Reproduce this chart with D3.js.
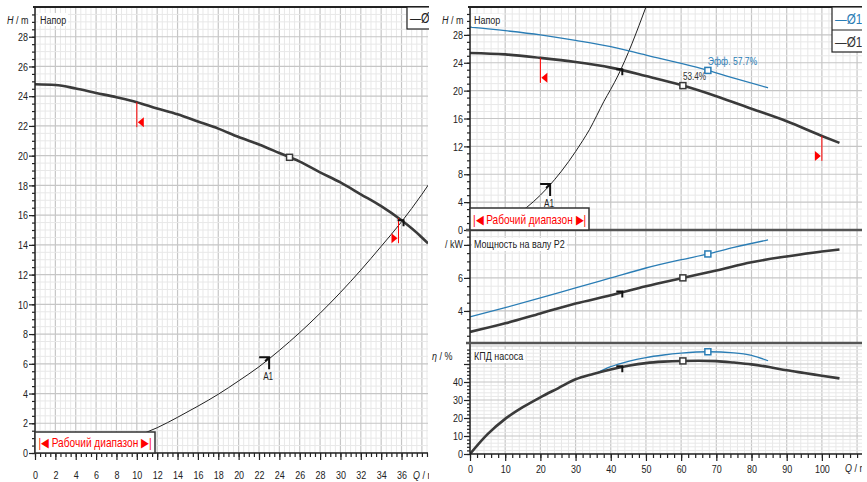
<!DOCTYPE html>
<html>
<head>
<meta charset="utf-8">
<script src="https://cdn.jsdelivr.net/npm/d3@7"></script>
<style>
body { margin: 0; background: #fff; }
svg text { font-family: "Liberation Sans", Arial, sans-serif; }
</style>
</head>
<body>
<div id="vis"></div>
<script>
// ---- data ----
// left chart: pump curve and system curve A1
const leftPumpQ = [0, 2, 4, 6, 8, 10, 12, 14, 16, 18, 20, 22, 24, 26, 28, 30, 32, 34, 36, 38, 38.6];
const leftPumpH = [24.8, 24.75, 24.52, 24.22, 23.93, 23.6, 23.17, 22.78, 22.3, 21.82, 21.25, 20.75, 20.18, 19.6, 18.88, 18.2, 17.4, 16.6, 15.65, 14.5, 14.1];
const leftSysQ = [10, 12, 14, 16, 18, 20, 22, 24, 26, 28, 30, 32, 34, 36, 38, 39];
const leftSysH = [1.15, 1.7, 2.4, 3.15, 3.95, 4.85, 5.8, 6.9, 8.1, 9.4, 10.8, 12.3, 13.9, 15.55, 17.4, 18.4];
// right chart: system curve A1 and two impellers
const systemQ = [10, 12, 14, 16, 18, 20, 22, 24, 26, 28, 30, 32, 34, 36, 38, 40, 42, 44, 46, 48, 50];
const systemH = [1.3, 1.8, 2.45, 3.2, 4.05, 5.0, 6.05, 7.2, 8.45, 9.8, 11.25, 12.8, 14.45, 16.4, 18.4, 20.2, 22.1, 24.3, 26.7, 29.3, 32.0];
const darkQ = [0, 10, 20, 30, 40, 50, 60, 70, 80, 90, 100, 105];
const darkH = [25.4, 25.2, 24.7, 24.1, 23.3, 22.1, 20.8, 19.2, 17.4, 15.6, 13.5, 12.5];
const darkP = [2.73, 3.25, 3.85, 4.45, 4.95, 5.5, 5.98, 6.45, 6.95, 7.3, 7.6, 7.72];
const blueQ = [0, 10, 20, 30, 40, 50, 60, 67.6, 75, 84.7];
const blueH = [29.1, 28.6, 28.0, 27.2, 26.3, 25.1, 23.9, 22.9, 21.8, 20.4];
const blueP = [3.64, 4.2, 4.79, 5.4, 6.0, 6.6, 7.1, 7.45, 7.85, 8.3];
const darkEffQ = [0, 5, 10, 15, 20, 25, 30, 35, 40, 45, 50, 55, 60, 65, 70, 75, 80, 85, 90, 95, 100, 105];
const darkEff = [0, 11, 19.5, 26, 31.5, 36.5, 41.5, 44.5, 47, 49, 50.5, 51.3, 51.7, 51.8, 51.6, 50.8, 49.8, 48.3, 46.5, 45, 43.5, 42];
const blueEffQ = [36, 40, 45, 50, 55, 60, 67.6, 75, 80, 84.7];
const blueEff = [45, 48.5, 51.5, 53.6, 55, 56, 56.8, 56.2, 54.8, 51.8];
// marker positions (Q)
const leftDutyQ = 25, leftCrossQ = 36.1, leftA1Q = 22.8, leftRange = [10, 35.7];
const darkDutyQ = 60.5, blueDutyQ = 67.6, rightCrossQ = 43, rightA1Q = 22.2, rightRange = [20, 100];
// tick labels
const leftXTicks = d3.range(0, 37, 2);
const leftYTicks = d3.range(0, 29, 2);
const rightXTicks = d3.range(0, 101, 10);
const headTicks = [0, 4, 8, 12, 16, 20, 24, 28];
const powerTicks = [4, 6];
const effTicks = [0, 10, 20, 30, 40];

const width = 867, height = 482;
const dark = "#3a3a3a", blue = "#2a7db5", red = "#ff0000";
const SX = 0.78; // narrow lettering

const svg = d3.select("#vis").append("svg")
  .attr("width", width).attr("height", height)
  .style("background", "#fff");
const defs = svg.append("defs");
function clip(id, x, y, w, h) {
  defs.append("clipPath").attr("id", id).append("rect")
    .attr("x", x).attr("y", y).attr("width", w).attr("height", h);
  return "url(#" + id + ")";
}
// condensed text
function ntext(g, x, y, size, fill, anchor) {
  return g.append("text").attr("transform", `translate(${x},${y}) scale(${SX},1)`)
    .attr("font-size", size).attr("fill", fill).attr("text-anchor", anchor || "start");
}

// scales
const xL = d3.scaleLinear([0, 38.6], [35, 428]);
const yL = d3.scaleLinear([0, 30], [453, 7]);
const xR = d3.scaleLinear([0, 111.4], [470, 862]);
const y1 = d3.scaleLinear([0, 32], [230, 7]);
const y2 = d3.scaleLinear([2, 8.9], [344, 230]);
const y3 = d3.scaleLinear([0, 60], [454, 346]);

function grid(g, x, y, xs, ys, major) {
  g.selectAll(null).data(xs).join("line")
    .attr("x1", d => x(d)).attr("x2", d => x(d))
    .attr("y1", y.range()[0]).attr("y2", y.range()[1])
    .attr("stroke", d => major(d, "x") ? "#c6c6c6" : "#e8e8e8")
    .attr("stroke-width", d => major(d, "x") ? 1.2 : 1);
  g.selectAll(null).data(ys).join("line")
    .attr("y1", d => y(d)).attr("y2", d => y(d))
    .attr("x1", x.range()[0]).attr("x2", x.range()[1])
    .attr("stroke", d => major(d, "y") ? "#c6c6c6" : "#e8e8e8")
    .attr("stroke-width", d => major(d, "y") ? 1.2 : 1);
}
const near = (v, step) => Math.abs(v / step - Math.round(v / step)) < 1e-6;

function yAxis(g, y, majors, minors, labels) {
  g.call(d3.axisLeft(y).tickValues(minors).tickSize(3).tickFormat(""));
  g.append("g").call(d3.axisLeft(y).tickValues(majors).tickSize(6)
      .tickFormat(d => labels.includes(d) ? d : ""));
  g.selectAll(".domain").remove();
  g.selectAll("line").attr("stroke", "#222").attr("stroke-width", 1.2);
  g.selectAll("text").attr("font-size", 11.5).attr("fill", "#222")
    .attr("x", -7 / SX).attr("transform", `scale(${SX},1)`);
}
function xAxis(g, x, majors, minors, dy) {
  g.call(d3.axisBottom(x).tickValues(minors).tickSize(4).tickFormat(""));
  g.append("g").call(d3.axisBottom(x).tickValues(majors).tickSize(7).tickFormat(d => d));
  g.selectAll(".domain").remove();
  g.selectAll("line").attr("stroke", "#222").attr("stroke-width", 1.2);
  g.selectAll("text").attr("font-size", 11.5).attr("fill", "#222")
    .attr("dy", dy).attr("transform", `scale(${SX},1)`);
}

const curve = (x, y) => d3.line().x(d => x(d[0])).y(d => y(d[1])).curve(d3.curveMonotoneX);
const zip = (a, b) => a.map((v, i) => [v, b[i]]);
const at = (qs, vs) => d3.scaleLinear(qs, vs);

function square(g, cx, cy, col) {
  g.append("rect").attr("x", cx - 3).attr("y", cy - 3).attr("width", 6).attr("height", 6)
    .attr("fill", "#fff").attr("stroke", col).attr("stroke-width", 1.5);
}
function tick(g, cx, cy) {
  g.append("path").attr("d", `M${cx - 5},${cy - 1}H${cx + 1}V${cy + 5}`)
    .attr("fill", "none").attr("stroke", "#111").attr("stroke-width", 2);
}
function redMark(g, cx, cyTop, dir) {
  const bottom = cyTop + 25;
  g.append("line").attr("x1", cx).attr("x2", cx).attr("y1", cyTop).attr("y2", bottom)
    .attr("stroke", red).attr("stroke-width", 1);
  const b = cx + dir * -7;
  g.append("path").attr("d", `M${cx + (dir < 0 ? 1 : -1)},${bottom - 5}L${b},${bottom - 10}L${b},${bottom}Z`)
    .attr("fill", red);
}
function rangeBox(g, x0, y0, x1, y1) {
  g.append("rect").attr("x", x0).attr("y", y0).attr("width", x1 - x0).attr("height", y1 - y0)
    .attr("fill", "#fff").attr("stroke", "#333").attr("stroke-width", 1.5);
  ntext(g, (x0 + x1) / 2, (y0 + y1) / 2 + 4.5, 13, red, "middle")
    .text("|◀ Рабочий диапазон ▶|");
}
function a1(g, cx, cy) {
  g.append("path").attr("d", `M${cx - 8},${cy - 3}H${cx + 2}V${cy + 9}M${cx + 2},${cy - 3}L${cx - 2},${cy + 1}`)
    .attr("fill", "none").attr("stroke", "#111").attr("stroke-width", 2);
  ntext(g, cx + 1, cy + 20, 10.5, "#222", "middle").text("A1");
}

// ================= LEFT CHART =================
const L = svg.append("g").attr("clip-path", clip("clipL", 0, 0, 429, height));
const Lplot = L.append("g").attr("clip-path", clip("plotL", 35, 7, 393, 446));
grid(Lplot, xL, yL, d3.range(0, 38.6, 0.5), d3.range(0, 30.1, 0.5), (d) => near(d, 2));

yAxis(L.append("g").attr("transform", "translate(35,0)"), yL, leftYTicks, d3.range(0, 30, 0.5), leftYTicks);
xAxis(L.append("g").attr("transform", "translate(0,453)"), xL, leftXTicks, d3.range(0, 38.6, 0.5), "1.4em");
L.append("line").attr("x1", 35).attr("x2", 428).attr("y1", 453).attr("y2", 453).attr("stroke", "#222").attr("stroke-width", 1.5);
L.append("line").attr("x1", 35).attr("x2", 35).attr("y1", 7).attr("y2", 453).attr("stroke", "#222").attr("stroke-width", 1.5);
L.append("line").attr("x1", 33).attr("x2", 429).attr("y1", 7).attr("y2", 7).attr("stroke", "#222").attr("stroke-width", 2);

const lp = at(leftPumpQ, leftPumpH), lsys = at(leftSysQ, leftSysH);
Lplot.append("path").datum(zip(leftSysQ, leftSysH)).attr("d", curve(xL, yL))
  .attr("fill", "none").attr("stroke", "#222").attr("stroke-width", 1);
Lplot.append("path").datum(zip(leftPumpQ, leftPumpH)).attr("d", curve(xL, yL))
  .attr("fill", "none").attr("stroke", dark).attr("stroke-width", 2.6);
redMark(Lplot, xL(leftRange[0]), yL(lp(leftRange[0])), -1);
redMark(Lplot, xL(leftRange[1]), yL(lp(leftRange[1])), 1);
square(Lplot, xL(leftDutyQ), yL(lp(leftDutyQ)), dark);
tick(Lplot, xL(leftCrossQ), yL(lp(leftCrossQ)));
a1(Lplot, xL(leftA1Q), yL(lsys(leftA1Q)));
rangeBox(L, 35, 432, 155, 453);

L.append("rect").attr("x", 38).attr("y", 13).attr("width", 30).attr("height", 13).attr("fill", "#fff");
ntext(L, 40, 24, 11.5, "#222").text("Напор");
ntext(L, 7, 24, 11.5, "#222").html('<tspan font-style="italic">H</tspan> / m');
ntext(L, 413, 479, 11.5, "#222").html('<tspan font-style="italic">Q</tspan> / m³/h');
L.append("rect").attr("x", 407).attr("y", 7).attr("width", 40).attr("height", 22)
  .attr("fill", "#fff").attr("stroke", "#222").attr("stroke-width", 1.2);
ntext(L, 410, 23, 14, "#222").text("—Ø");

// ================= RIGHT CHART =================
const R = svg.append("g").attr("clip-path", clip("clipR", 430, 0, 432, height));
const P1 = R.append("g").attr("clip-path", clip("plotR1", 470, 7, 392, 223));
const P2 = R.append("g").attr("clip-path", clip("plotR2", 470, 230, 392, 114));
const P3 = R.append("g").attr("clip-path", clip("plotR3", 470, 343, 392, 111));
const xMin = d3.range(0, 111.4, 2);
grid(P1, xR, y1, xMin, d3.range(0, 32.1, 1), (d, a) => a === "x" ? near(d, 10) : near(d, 4));
grid(P2, xR, y2, xMin, d3.range(2, 8.95, 0.5), (d, a) => a === "x" ? near(d, 10) : near(d, 2));
grid(P3, xR, y3, xMin, d3.range(0, 60.1, 2), (d, a) => a === "x" ? near(d, 10) : near(d, 10));

yAxis(R.append("g").attr("transform", "translate(470,0)"), y1, headTicks, d3.range(0, 32, 1), headTicks);
yAxis(R.append("g").attr("transform", "translate(470,0)"), y2, [4, 6, 8], d3.range(2.5, 8.9, 0.5), powerTicks);
yAxis(R.append("g").attr("transform", "translate(470,0)"), y3, [0, 10, 20, 30, 40, 50], d3.range(0, 59, 2), effTicks);
xAxis(R.append("g").attr("transform", "translate(0,454)"), xR, rightXTicks, d3.range(0, 111.4, 2), "0.75em");

R.append("line").attr("x1", 470).attr("x2", 470).attr("y1", 7).attr("y2", 454).attr("stroke", "#222").attr("stroke-width", 1.5);
R.append("line").attr("x1", 470).attr("x2", 862).attr("y1", 454).attr("y2", 454).attr("stroke", "#222").attr("stroke-width", 1.5);
R.append("line").attr("x1", 468).attr("x2", 862).attr("y1", 7).attr("y2", 7).attr("stroke", "#222").attr("stroke-width", 2);
R.append("line").attr("x1", 466).attr("x2", 862).attr("y1", 230).attr("y2", 230).attr("stroke", "#555").attr("stroke-width", 2.5);
R.append("line").attr("x1", 466).attr("x2", 862).attr("y1", 343).attr("y2", 343).attr("stroke", "#555").attr("stroke-width", 2.5);

// head panel
const dH = at(darkQ, darkH), bH = at(blueQ, blueH), sys = at(systemQ, systemH);
P1.append("path").datum(zip(systemQ, systemH)).attr("d", curve(xR, y1))
  .attr("fill", "none").attr("stroke", "#222").attr("stroke-width", 1);
P1.append("path").datum(zip(blueQ, blueH)).attr("d", curve(xR, y1))
  .attr("fill", "none").attr("stroke", blue).attr("stroke-width", 1.3);
P1.append("path").datum(zip(darkQ, darkH)).attr("d", curve(xR, y1))
  .attr("fill", "none").attr("stroke", dark).attr("stroke-width", 2.6);
redMark(P1, xR(rightRange[0]), y1(dH(rightRange[0])), -1);
redMark(P1, xR(rightRange[1]), y1(dH(rightRange[1])), 1);
tick(P1, xR(rightCrossQ), y1(dH(rightCrossQ)));
square(P1, xR(darkDutyQ), y1(dH(darkDutyQ)), dark);
square(P1, xR(blueDutyQ), y1(bH(blueDutyQ)), blue);
ntext(P1, xR(darkDutyQ), y1(dH(darkDutyQ)) - 6, 10.5, "#333").text("53.4%");
ntext(P1, xR(blueDutyQ), y1(bH(blueDutyQ)) - 5, 11, blue).text("Эфф.  57.7%");
a1(P1, xR(rightA1Q), y1(sys(rightA1Q)));
rangeBox(R, 470, 208, 589, 230);

// power panel
const dP = at(darkQ, darkP), bP = at(blueQ, blueP);
P2.append("path").datum(zip(blueQ, blueP)).attr("d", curve(xR, y2))
  .attr("fill", "none").attr("stroke", blue).attr("stroke-width", 1.3);
P2.append("path").datum(zip(darkQ, darkP)).attr("d", curve(xR, y2))
  .attr("fill", "none").attr("stroke", dark).attr("stroke-width", 2.6);
tick(P2, xR(rightCrossQ), y2(dP(rightCrossQ)));
square(P2, xR(darkDutyQ), y2(dP(darkDutyQ)), dark);
square(P2, xR(blueDutyQ), y2(bP(blueDutyQ)), blue);

// efficiency panel
const dE = at(darkEffQ, darkEff), bE = at(blueEffQ, blueEff);
P3.append("path").datum(zip(blueEffQ, blueEff)).attr("d", curve(xR, y3))
  .attr("fill", "none").attr("stroke", blue).attr("stroke-width", 1.3);
P3.append("path").datum(zip(darkEffQ, darkEff)).attr("d", curve(xR, y3))
  .attr("fill", "none").attr("stroke", dark).attr("stroke-width", 2.6);
tick(P3, xR(rightCrossQ), y3(dE(rightCrossQ)));
square(P3, xR(darkDutyQ), y3(dE(darkDutyQ)), dark);
square(P3, xR(blueDutyQ), y3(bE(blueDutyQ)), blue);

// panel titles and units
const lab = (g, x, y, t) => {
  const tx = ntext(g, x, y, 11.5, "#222").text(t);
  const w = tx.node().getComputedTextLength() * SX;
  g.insert("rect", () => tx.node()).attr("x", x - 2).attr("y", y - 10).attr("width", w + 4).attr("height", 13).attr("fill", "#fff");
};
lab(R, 474, 24, "Напор");
lab(R, 474, 248, "Мощность на валу P2");
lab(R, 474, 360, "КПД насоса");
ntext(R, 442, 24, 11.5, "#222").html('<tspan font-style="italic">H</tspan> / m');
ntext(R, 463, 248, 11.5, "#222", "end").text("/ kW");
ntext(R, 432, 360, 11.5, "#222").html('<tspan font-style="italic">η</tspan> / %');
ntext(R, 845, 472, 11.5, "#222").html('<tspan font-style="italic">Q</tspan> / m³/h');
// legend
R.append("rect").attr("x", 832).attr("y", 7).attr("width", 60).attr("height", 45)
  .attr("fill", "#fff").attr("stroke", "#222").attr("stroke-width", 1.2);
R.append("line").attr("x1", 832).attr("x2", 892).attr("y1", 30).attr("y2", 30).attr("stroke", "#222").attr("stroke-width", 1.2);
ntext(R, 835, 24, 15, blue).text("—Ø1");
ntext(R, 835, 47, 15, "#333").text("—Ø1");
</script>
</body>
</html>
